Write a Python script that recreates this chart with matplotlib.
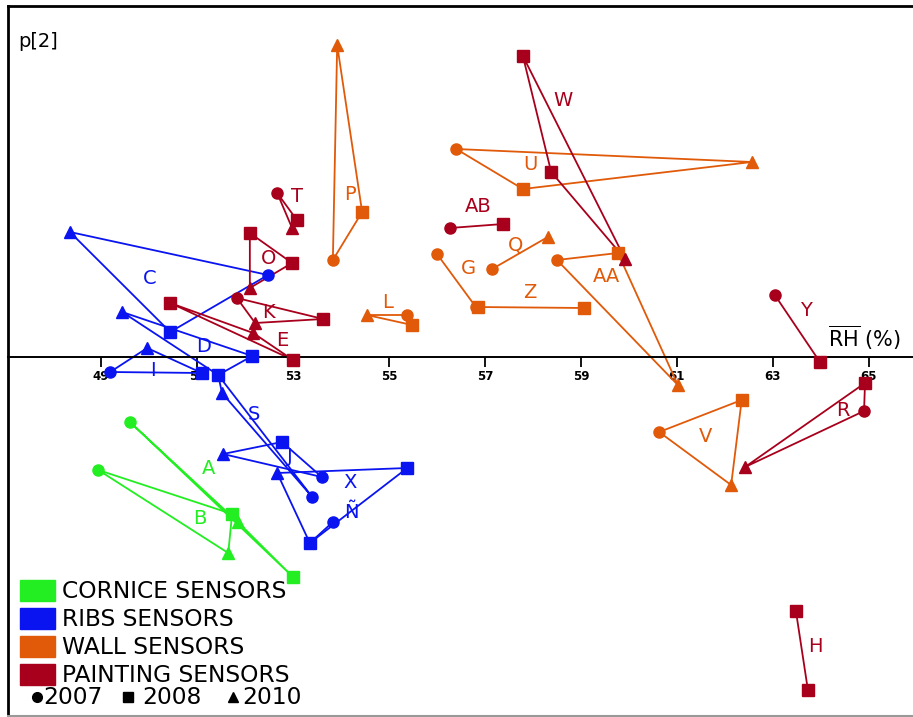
import matplotlib.pyplot as plt
from matplotlib.lines import Line2D
from matplotlib.patches import Rectangle

# Sensor groups: mean RH (x) vs p[2] (y), one point per year
cornice_names = ["A", "B"]
cornice_x = [[49.60, 51.85, 53.00], [48.94, 51.73, 51.65]]
cornice_y = [[-0.65, -1.65, -2.20], [-1.13, -1.57, -1.96]]
cornice_years = [[2007, 2010, 2008], [2007, 2008, 2010]]
cornice_lab = [(51.23, -1.11), (51.06, -1.62)]

ribs_names = ["C", "D", "I", "S", "J", "X", "Ñ"]
ribs_x = [[48.35, 52.48, 50.44], [49.44, 52.15, 51.44], [49.19, 51.10, 49.96],
          [53.40, 51.44, 51.52], [51.54, 52.77, 53.60], [52.67, 55.38, 53.35],
          [53.83, 53.35]]
ribs_y = [[1.25, 0.82, 0.25], [0.45, 0.01, -0.18], [-0.15, -0.16, 0.09],
          [-1.40, -0.18, -0.36], [-0.97, -0.85, -1.20], [-1.16, -1.11, -1.86],
          [-1.65, -1.86]]
ribs_years = [[2010, 2007, 2008], [2010, 2008, 2007], [2007, 2008, 2010],
              [2007, 2008, 2010], [2010, 2008, 2007], [2010, 2008, 2007],
              [2007, 2008]]
ribs_lab = [(50.02, 0.78), (51.13, 0.10), (50.08, -0.13), (52.19, -0.57),
            (52.94, -1.00), (54.19, -1.25), (54.21, -1.55)]

wall_names = ["P", "L", "U", "G", "Z", "Q", "AA", "V"]
wall_x = [[53.92, 54.44, 53.83], [54.54, 55.38, 55.48], [56.40, 57.79, 62.56],
          [56.00, 56.81], [56.85, 59.06], [57.15, 58.31],
          [58.50, 59.77, 61.02], [60.63, 62.35, 62.13]]
wall_y = [[3.12, 1.45, 0.97], [0.42, 0.42, 0.32], [2.08, 1.68, 1.95],
          [1.03, 0.50], [0.50, 0.49], [0.88, 1.20],
          [0.97, 1.04, -0.28], [-0.75, -0.43, -1.28]]
wall_years = [[2010, 2008, 2007], [2010, 2007, 2008], [2007, 2008, 2010],
              [2007, 2007], [2008, 2008], [2007, 2010],
              [2007, 2008, 2010], [2007, 2008, 2010]]
wall_lab = [(54.19, 1.62), (54.98, 0.54), (57.94, 1.92), (56.65, 0.89),
            (57.94, 0.64), (57.63, 1.12), (59.54, 0.80), (61.60, -0.79)]

paint_names = ["W", "AB", "T", "O", "K", "E", "Y", "R", "H"]
paint_x = [[57.79, 58.38, 59.92], [56.27, 57.38], [52.67, 53.08, 52.98],
           [52.10, 52.98, 52.10], [51.83, 53.63, 52.21], [50.44, 52.17, 53.00],
           [63.04, 63.98], [64.92, 64.90, 62.42], [63.48, 63.73]]
paint_y = [[3.01, 1.85, 0.98], [1.29, 1.33], [1.64, 1.37, 1.29],
           [1.24, 0.94, 0.69], [0.59, 0.38, 0.34], [0.54, 0.24, -0.03],
           [0.62, -0.05], [-0.26, -0.54, -1.10], [-2.54, -3.33]]
paint_years = [[2008, 2008, 2010], [2007, 2008], [2007, 2008, 2010],
               [2008, 2008, 2010], [2007, 2008, 2010], [2008, 2010, 2008],
               [2007, 2008], [2008, 2007, 2010], [2008, 2008]]
paint_lab = [(58.63, 2.56), (56.85, 1.50), (53.08, 1.60), (52.48, 0.98),
             (52.48, 0.44), (52.77, 0.17), (63.69, 0.46), (64.46, -0.53),
             (63.88, -2.89)]

ticks = [49, 51, 53, 55, 57, 59, 61, 63, 65]

colors = {"cornice": "#22ee22", "ribs": "#0a14f0", "wall": "#e05a0a", "paint": "#a8001c"}
markers = {2007: "o", 2008: "s", 2010: "^"}

fig = plt.figure(figsize=(9.13, 7.17), dpi=100)
ax = fig.add_axes([8 / 913, 1 / 717, 905 / 913, 710 / 717])
ax.set_xlim(47.06, 65.92)
ax.set_ylim(-3.59, 3.51)

groups = [
    (cornice_names, cornice_x, cornice_y, cornice_years, cornice_lab, colors["cornice"]),
    (ribs_names, ribs_x, ribs_y, ribs_years, ribs_lab, colors["ribs"]),
    (wall_names, wall_x, wall_y, wall_years, wall_lab, colors["wall"]),
    (paint_names, paint_x, paint_y, paint_years, paint_lab, colors["paint"]),
]

for names, xs, ys, yrs, labs, col in groups:
    for name, x, y, yr, lab in zip(names, xs, ys, yrs, labs):
        if len(x) == 3:
            px, py = x + [x[0]], y + [y[0]]
        else:
            px, py = x, y
        ax.plot(px, py, color=col, lw=1.3, zorder=2)
        for xi, yi, yy in zip(x, y, yr):
            ax.plot(xi, yi, marker=markers[yy], color=col, ms=8, mec=col, zorder=3)
        ax.text(lab[0], lab[1], name, color=col, fontsize=14, ha="center", va="center")

# axis styling
ax.spines["right"].set_visible(False)
ax.spines["bottom"].set_position(("data", 0))
ax.spines["bottom"].set_linewidth(1.4)
ax.spines["top"].set_linewidth(2)
ax.spines["left"].set_linewidth(2)
ax.set_xticks(ticks)
ax.set_xticklabels([str(t) for t in ticks], fontsize=8.5, fontweight="bold")
ax.tick_params(axis="x", direction="out", length=7, width=1.3, pad=2)
ax.set_yticks([])
fig.add_artist(Line2D([8 / 913, 1], [1 / 717, 1 / 717], color="#999999", lw=1.5))

ax.text(0.011, 0.95, "p[2]", transform=ax.transAxes, fontsize=14, va="center")
ax.text(0.906, 0.532, r"$\overline{\mathrm{RH}}$ (%)", transform=ax.transAxes,
        fontsize=15, va="center")

# legend
leg_items = [("CORNICE SENSORS", colors["cornice"]), ("RIBS SENSORS", colors["ribs"]),
             ("WALL SENSORS", colors["wall"]), ("PAINTING SENSORS", colors["paint"])]
for i, (txt, col) in enumerate(leg_items):
    yc = 1 - (591 + 28 * i) / 717
    fig.add_artist(Rectangle((20 / 913, yc - 10 / 717), 35 / 913, 21 / 717,
                             color=col, transform=fig.transFigure))
    fig.text(62 / 913, yc, txt, fontsize=16.8, va="center")
yc = 1 - 697 / 717
fig.add_artist(Line2D([37 / 913], [yc], marker="o", color="black", ms=7, transform=fig.transFigure))
fig.text(43 / 913, yc, "2007", fontsize=16.8, va="center")
fig.add_artist(Line2D([128 / 913], [yc], marker="s", color="black", ms=7, transform=fig.transFigure))
fig.text(142 / 913, yc, "2008", fontsize=16.8, va="center")
fig.add_artist(Line2D([233 / 913], [yc], marker="^", color="black", ms=7, transform=fig.transFigure))
fig.text(242 / 913, yc, "2010", fontsize=16.8, va="center")

fig.savefig("out.png", dpi=100)
